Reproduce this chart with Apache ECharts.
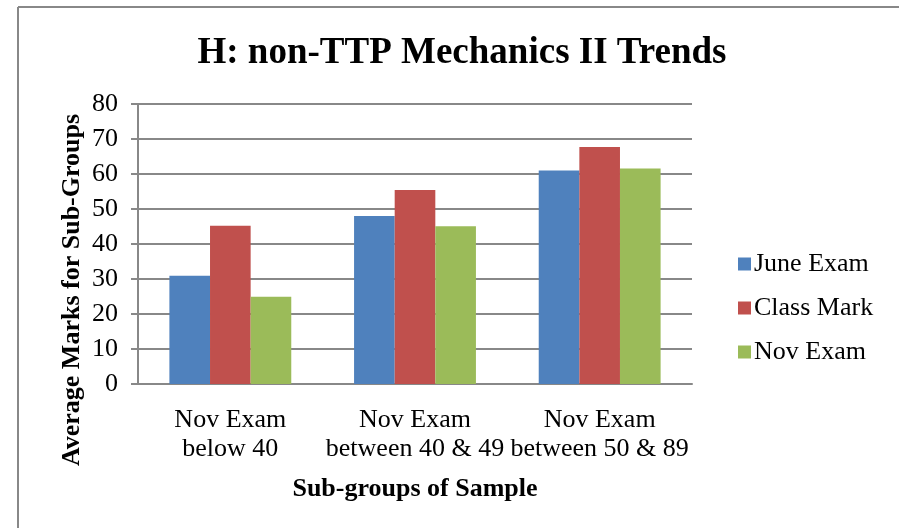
<!DOCTYPE html>
<html><head><meta charset="utf-8">
<script src="https://cdn.jsdelivr.net/npm/echarts@6/dist/echarts.min.js"></script>
<style>html,body{margin:0;padding:0;background:#fff}#c{width:899px;height:528px}</style>
</head><body><div id="c"></div>
<script>
const categories = ['Nov Exam\nbelow 40', 'Nov Exam\nbetween 40 & 49', 'Nov Exam\nbetween 50 & 89'];
const juneExam = [30.9, 48.0, 61.0];
const classMark = [45.2, 55.4, 67.7];
const novExam = [24.9, 45.1, 61.6];
const seriesNames = ['June Exam', 'Class Mark', 'Nov Exam'];
const colors = ['#4F81BD', '#C0504D', '#9BBB59'];
const font = '"Liberation Serif", "Times New Roman", serif';

const chart = echarts.init(document.getElementById('c'));
chart.setOption({
  animation: false,
  textStyle: { fontFamily: font, color: '#000' },
  title: {
    text: 'H: non-TTP Mechanics II Trends',
    left: 457, top: 30, textAlign: 'center',
    textStyle: { fontFamily: font, fontSize: 37, fontWeight: 'bold', color: '#000' }
  },
  legend: {
    orient: 'vertical', left: 733, top: 246,
    itemWidth: 13, itemHeight: 13, itemGap: 18, icon: 'rect',
    textStyle: { fontFamily: font, fontSize: 26, color: '#000', padding: [0, 0, 0, -2] },
    data: seriesNames
  },
  graphic: [
    { type: 'line', shape: { x1: 18, y1: 7, x2: 899, y2: 7 }, style: { stroke: '#888', lineWidth: 2 } },
    { type: 'line', shape: { x1: 18, y1: 7, x2: 18, y2: 528 }, style: { stroke: '#888', lineWidth: 2 } },
    { type: 'text', x: 72, y: 290, rotation: Math.PI / 2,
      style: { text: 'Average Marks for Sub-Groups', font: 'bold 26px ' + font, fill: '#000', align: 'center', verticalAlign: 'middle' } }
  ],
  grid: { left: 138, right: 207, top: 104, bottom: 144 },
  xAxis: {
    type: 'category', data: categories,
    name: 'Sub-groups of Sample', nameLocation: 'middle', nameGap: 92,
    nameTextStyle: { fontFamily: font, fontSize: 26, fontWeight: 'bold', color: '#000' },
    axisLine: { lineStyle: { color: '#888', width: 2 } },
    axisTick: { show: false },
    axisLabel: { fontFamily: font, fontSize: 26, color: '#000', lineHeight: 29, margin: 22, interval: 0 }
  },
  yAxis: {
    type: 'value', min: 0, max: 80, interval: 10,
    axisLine: { show: true, lineStyle: { color: '#888', width: 2 } },
    axisTick: { show: true, length: 7, lineStyle: { color: '#888', width: 2 } },
    splitLine: { lineStyle: { color: '#888', width: 2 } },
    axisLabel: { fontFamily: font, fontSize: 26, color: '#000', margin: 20 }
  },
  series: [
    { name: seriesNames[0], type: 'bar', data: juneExam, itemStyle: { color: colors[0] }, barGap: '0%', barCategoryGap: '34%' },
    { name: seriesNames[1], type: 'bar', data: classMark, itemStyle: { color: colors[1] } },
    { name: seriesNames[2], type: 'bar', data: novExam, itemStyle: { color: colors[2] } }
  ]
});
</script></body></html>
